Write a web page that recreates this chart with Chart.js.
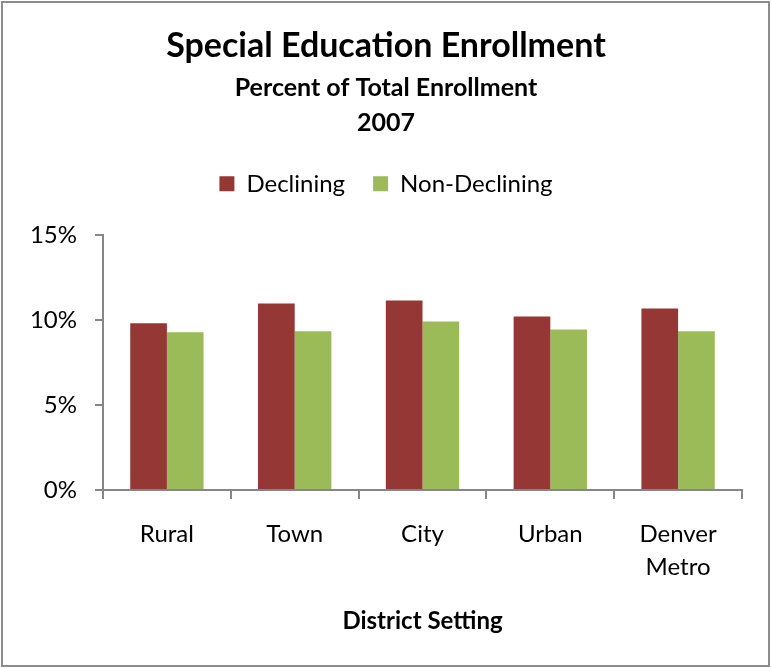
<!DOCTYPE html>
<html>
<head>
<meta charset="utf-8">
<script src="https://cdn.jsdelivr.net/npm/chart.js@4/dist/chart.umd.min.js"></script>
<style>
  body { margin: 0; background: #fff; }
  #frame {
    position: absolute; left: 1px; top: 1px;
    width: 765px; height: 662px;
    border: 2px solid #8c8c8c;
  }
  #wrap { position: absolute; left: 0; top: 0; width: 771px; height: 668px; }
</style>
</head>
<body>
<div id="frame"></div>
<div id="wrap"><canvas id="chart" width="771" height="668"></canvas></div>
<script>
// District settings along the x axis
const settings = ['Rural', 'Town', 'City', 'Urban', ['Denver', 'Metro']];

// Special ed share of total enrollment, 2007 (%)
const declining = [9.8, 10.96, 11.14, 10.2, 10.67];
const nonDeclining = [9.27, 9.33, 9.91, 9.44, 9.33];

const yTicks = [0, 5, 10, 15];

const axisGray = '#868686';
const font = 'Lato, "Open Sans", sans-serif';

// leave some extra room between the legend and the plot
const legendGap = {
    id: 'legendGap',
    afterInit(chart) {
        const fit = chart.legend.fit;
        chart.legend.fit = function () {
            fit.call(this);
            this.height += 29;
        };
    }
};

new Chart(document.getElementById('chart'), {
    type: 'bar',
    data: {
        labels: settings,
        datasets: [
            {
                label: 'Declining',
                data: declining,
                backgroundColor: '#953735',
                categoryPercentage: 0.574,
                barPercentage: 1.0
            },
            {
                label: 'Non-Declining',
                data: nonDeclining,
                backgroundColor: '#9bbb59',
                categoryPercentage: 0.574,
                barPercentage: 1.0
            }
        ]
    },
    plugins: [legendGap],
    options: {
        responsive: false,
        animation: false,
        layout: { padding: { left: 30, right: 29, top: 26, bottom: 28 } },
        plugins: {
            title: {
                display: true,
                text: 'Special Education Enrollment',
                color: '#000',
                font: { family: font, size: 34, weight: 'bold' },
                padding: { top: 0, bottom: 4 }
            },
            subtitle: {
                display: true,
                text: ['Percent of Total Enrollment', '2007'],
                color: '#000',
                font: { family: font, size: 25, weight: 'bold', lineHeight: 1.4 },
                padding: { top: 0, bottom: 3 }
            },
            legend: {
                position: 'top',
                labels: {
                    color: '#000',
                    font: { family: font, size: 24 },
                    boxWidth: 15,
                    boxHeight: 15,
                    padding: 28
                }
            },
            tooltip: { enabled: false }
        },
        scales: {
            x: {
                grid: {
                    drawOnChartArea: false,
                    color: axisGray,
                    lineWidth: 2,
                    tickLength: 9,
                    offset: true
                },
                border: { color: axisGray, width: 2 },
                ticks: {
                    color: '#000',
                    font: { family: font, size: 24, lineHeight: 1.38 },
                    padding: 19,
                    maxRotation: 0
                },
                title: {
                    display: true,
                    text: 'District Setting',
                    color: '#000',
                    font: { family: font, size: 24, weight: 'bold' },
                    padding: { top: 4 }
                }
            },
            y: {
                min: 0,
                max: 15,
                afterBuildTicks: axis => {
                    axis.ticks = yTicks.map(v => ({ value: v }));
                },
                afterFit: axis => {
                    axis.width = 73;
                },
                grid: {
                    drawOnChartArea: false,
                    color: axisGray,
                    lineWidth: 2,
                    tickLength: 8
                },
                border: { color: axisGray, width: 2 },
                ticks: {
                    color: '#000',
                    font: { family: font, size: 24 },
                    padding: 18,
                    callback: v => v + '%'
                }
            }
        }
    }
});
</script>
</body>
</html>
